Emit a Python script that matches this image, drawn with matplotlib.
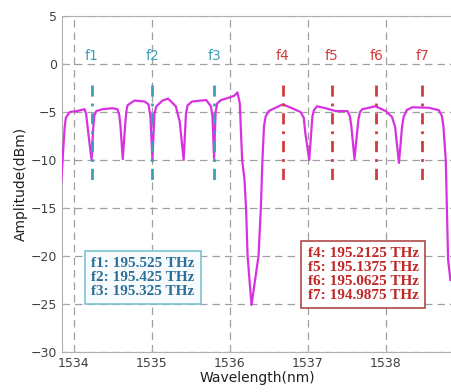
#!/usr/bin/python3

import matplotlib as mat
mat.use('Agg')
import matplotlib.pyplot as plt

wavelength = [1533.84, 1533.87, 1533.885, 1533.90, 1533.95, 1534.04, 1534.14, 1534.16, 1534.18,
    1534.20, 1534.23, 1534.25, 1534.265, 1534.29, 1534.37, 1534.50, 1534.56, 1534.585, 1534.60,
    1534.63, 1534.66, 1534.675, 1534.69, 1534.78, 1534.91, 1534.96, 1534.985, 1535.01, 1535.035,
    1535.06, 1535.14, 1535.21, 1535.23, 1535.31, 1535.36, 1535.41, 1535.44, 1535.46, 1535.52,
    1535.70, 1535.76, 1535.78, 1535.80, 1535.82, 1535.84, 1535.89, 1535.99, 1536.06, 1536.10,
    1536.13, 1536.16, 1536.19, 1536.21, 1536.23, 1536.28, 1536.37, 1536.40, 1536.42, 1536.44,
    1536.46, 1536.50, 1536.55, 1536.68, 1536.80, 1536.91, 1536.95, 1536.97, 1537.02, 1537.06,
    1537.08, 1537.12, 1537.23, 1537.36, 1537.51, 1537.54, 1537.56, 1537.60, 1537.65, 1537.67,
    1537.70, 1537.87, 1538.00, 1538.08, 1538.12, 1538.17, 1538.21, 1538.23, 1538.27, 1538.34,
    1538.55, 1538.68, 1538.72, 1538.74, 1538.77, 1538.80, 1538.83]
amplitude = [-12.4, -8.5, -6.6, -5.6, -5.0, -4.9, -4.7, -5.2, -6.6,
    -8.0, -10.0, -6.8, -5.4, -4.9, -4.7, -4.6, -4.7, -5.3, -6.4,
    -9.9, -6.4, -5.0, -4.3, -3.8, -3.9, -4.2, -5.5, -10.0, -5.2,
    -4.4, -3.8, -3.6, -3.75, -4.4, -6.0, -10.0, -5.2, -4.3, -3.9,
    -3.75, -4.4, -5.5, -9.8, -5.0, -4.1, -3.75, -3.5, -3.3, -2.95,
    -4.1, -10.0, -12.0, -15.0, -20.0, -25.1, -20.0, -15.0, -10.0, -6.5,
    -5.5, -4.9, -4.7, -4.2, -4.6, -5.0, -5.6, -7.2, -10.0, -5.5,
    -4.8, -4.4, -4.6, -4.9, -4.9, -5.4, -6.5, -9.9, -5.8, -5.0,
    -4.7, -4.4, -4.9, -5.5, -6.5, -10.3, -6.5, -5.5, -4.8, -4.5,
    -4.55, -4.8, -5.4, -6.5, -10.0, -20.4, -22.5]

chanNames = ['f1', 'f2', 'f3', 'f4', 'f5', 'f6', 'f7']
chanWavelength = [1534.23, 1535.01, 1535.80, 1536.68, 1537.31, 1537.88, 1538.47]
chanFreq = ['195.525', '195.425', '195.325', '195.2125', '195.1375', '195.0625', '194.9875']

xTicks = [1534, 1535, 1536, 1537, 1538]
yTicks = [5, 0, -5, -10, -15, -20, -25, -30]

blueCol = '#3a9fb8'
redCol = '#d23c3c'
lineCol = '#d832e0'

fig = plt.figure(figsize=(4.52, 3.92), dpi=100)
ax = fig.add_axes([0.137, 0.102, 0.863, 0.857])

for s in ax.spines.values():
  s.set_color('#b0b0b0')
ax.set_xlim(1533.85, 1538.85)
ax.set_ylim(-30, 5)
ax.set_xticks(xTicks)
ax.set_yticks(yTicks)
ax.tick_params(direction='in', length=3, colors='#b0b0b0', labelcolor='#404040', labelsize=9)
ax.grid(True, color='#a0a0a0', linestyle=(0, (6, 4)), linewidth=0.9)
ax.set_axisbelow(True)

ax.plot(wavelength, amplitude, color=lineCol, linewidth=1.6, zorder=3)

for i, name in enumerate(chanNames):
  col = blueCol if i < 3 else redCol
  ax.plot([chanWavelength[i], chanWavelength[i]], [-2.2, -12.4], color=col, linewidth=2,
      linestyle=(0, (4, 2.5, 1, 2.5)), zorder=4)
  ax.text(chanWavelength[i], 0.85, name, color=col, fontsize=10, ha='center', va='center')

txt1 = '\n'.join(chanNames[i] + ': ' + chanFreq[i] + ' THz' for i in range(3))
txt2 = '\n'.join(chanNames[i] + ': ' + chanFreq[i] + ' THz' for i in range(3, 7))
ax.text(1534.89, -22.2, txt1, family='Liberation Serif', weight='bold', fontsize=11, color='#2c6f98',
    ha='center', va='center', multialignment='left', linespacing=1.1,
    bbox=dict(boxstyle='square,pad=0.4', facecolor='#f7fbfd', edgecolor='#7cc4cf', linewidth=1.2), zorder=5)
ax.text(1537.71, -21.9, txt2, family='Liberation Serif', weight='bold', fontsize=11, color='#c02828',
    ha='center', va='center', multialignment='left', linespacing=1.1,
    bbox=dict(boxstyle='square,pad=0.4', facecolor='white', edgecolor='#b04848', linewidth=1.2), zorder=5)

ax.set_xlabel('Wavelength(nm)', fontsize=10, color='#202020', labelpad=1)
ax.set_ylabel('Amplitude(dBm)', fontsize=10, color='#202020', labelpad=2)

fig.savefig('out.png', dpi=100)
